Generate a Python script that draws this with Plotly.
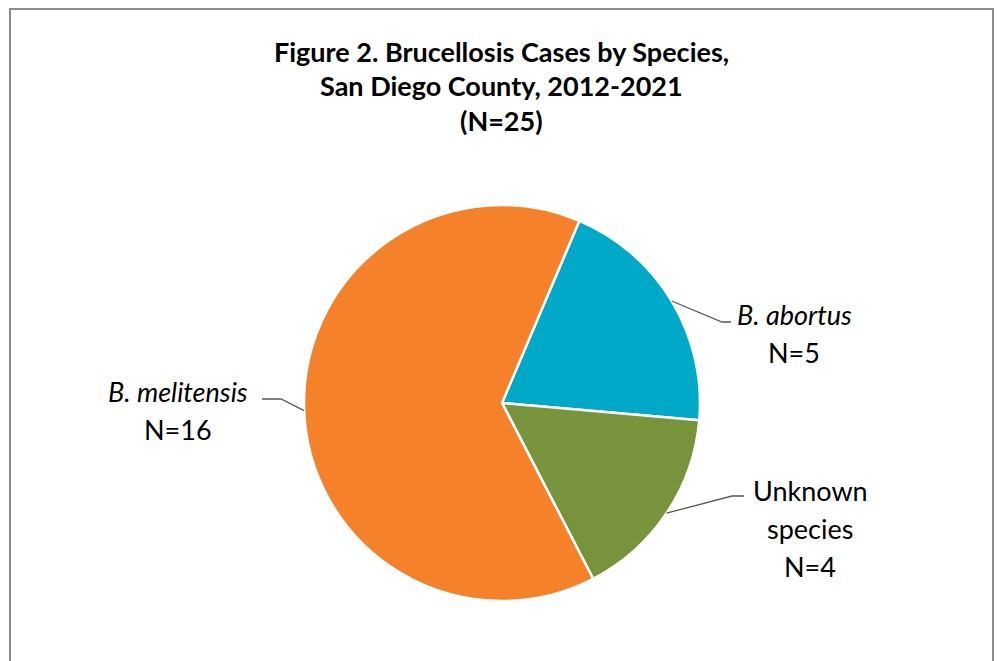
import math
import plotly.graph_objects as go

W, H = 997, 661

# Data
species = ["B. abortus", "Unknown species", "B. melitensis"]
cases = [5, 4, 16]
label_lines = [
    ["<i>B. abortus</i>", "N=5"],
    ["Unknown", "species", "N=4"],
    ["<i>B. melitensis</i>", "N=16"],
]
title_lines = [
    "Figure 2. Brucellosis Cases by Species,",
    "San Diego County, 2012-2021",
    "(N=25)",
]
colors = ["#00A9C7", "#77933C", "#F5822A"]

# Layout geometry (pixels)
cx, cy, rad = 502, 403, 198
rotation = 23
FONT = "Lato, Calibri, Carlito, sans-serif"
LINE_GAP = 38

# label first-line centre + leader elbow + leader end, per slice (pixels)
label_top = [(794, 314), (810, 490), (178, 391)]
elbow = [(722, 322), (732, 496), (281, 399)]
line_end = [(731, 322), (744, 496), (262, 399)]


def px(x):
    return x / W


def py(y):
    return 1 - y / H


fig = go.Figure(
    go.Pie(
        labels=species,
        values=cases,
        sort=False,
        direction="clockwise",
        rotation=rotation,
        marker=dict(colors=colors, line=dict(color="white", width=2.5)),
        textinfo="none",
        hoverinfo="label+value",
        showlegend=False,
        domain=dict(x=[px(cx - rad), px(cx + rad)], y=[py(cy + rad), py(cy - rad)]),
    )
)

total = sum(cases)
start = rotation
shapes = []
annotations = []
for i, v in enumerate(cases):
    span = 360 * v / total
    mid = math.radians(start + span / 2)
    start += span
    sx = cx + rad * math.sin(mid)
    sy = cy - rad * math.cos(mid)
    ex, ey = elbow[i]
    lx, ly = line_end[i]
    shapes.append(dict(
        type="path", xref="paper", yref="paper",
        path=f"M {px(sx)},{py(sy)} L {px(ex)},{py(ey)} L {px(lx)},{py(ly)}",
        line=dict(color="#595959", width=1.3),
    ))
    tx, ty = label_top[i]
    for k, line in enumerate(label_lines[i]):
        annotations.append(dict(
            x=px(tx), y=py(ty + k * LINE_GAP), xref="paper", yref="paper",
            text=line, showarrow=False, align="center",
            xanchor="center", yanchor="middle",
            font=dict(family=FONT, size=27, color="black"),
        ))

# chart frame
shapes.append(dict(
    type="rect", xref="paper", yref="paper",
    x0=px(10), x1=px(993), y0=py(700), y1=py(9),
    line=dict(color="#8C8C8C", width=2), fillcolor="rgba(0,0,0,0)",
))

for k, line in enumerate(title_lines):
    annotations.append(dict(
        x=px(501), y=py(52 + k * 34), xref="paper", yref="paper",
        text=f"<b>{line}</b>",
        showarrow=False, align="center", xanchor="center", yanchor="middle",
        font=dict(family=FONT, size=27, color="black"),
    ))

fig.update_layout(
    width=W, height=H,
    margin=dict(l=0, r=0, t=0, b=0),
    paper_bgcolor="white", plot_bgcolor="white",
    shapes=shapes, annotations=annotations,
)

fig.write_html("out.html")
